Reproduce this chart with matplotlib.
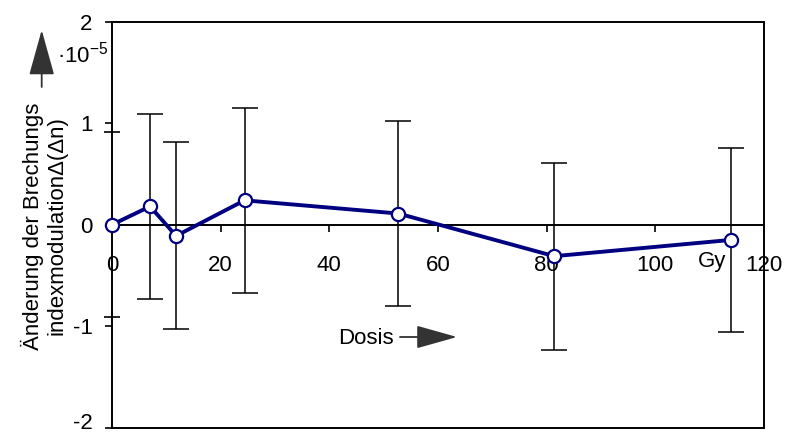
import matplotlib
matplotlib.use("Agg")
import matplotlib.pyplot as plt
from matplotlib.ticker import FixedLocator
from matplotlib.transforms import offset_copy

plt.rcParams['font.family'] = ['Liberation Sans', 'DejaVu Sans']
plt.rcParams['font.size'] = 16

# Dose (Gy) and change of refractive index modulation (x 1e-5)
dose = [0.0, 7.0, 11.8, 24.4, 52.7, 81.4, 113.9]
delta_n = [0.0, 0.18, -0.11, 0.24, 0.11, -0.31, -0.15]
delta_n_err = [0.0, 0.91, 0.92, 0.91, 0.91, 0.92, 0.91]

x_ticks = [0, 20, 40, 60, 80, 100, 120]
y_ticks = [-2, -1, 0, 1, 2]
y_ticks_aux = [-0.91, 0.91]

W, H = 787, 436
fig = plt.figure(figsize=(W / 100, H / 100), dpi=100)
ax = fig.add_axes([112 / W, 1 - 427.7 / H, (764 - 112) / W, (427.7 - 21.7) / H])

ax.set_xlim(0, 120)
ax.set_ylim(-2, 2)

# error bars (with caps) behind the curve
ax.errorbar(dose[1:], delta_n[1:], yerr=delta_n_err[1:], fmt='none',
            ecolor='black', elinewidth=1.1, capsize=9.5, capthick=1.1, zorder=2)
ax.plot(dose, delta_n, color='#000080', lw=2.8, marker='o', ms=9.5,
        mfc='white', mec='#000080', mew=1.6, zorder=3, clip_on=False)

# axes: x axis through zero, framed box
for s in ['left', 'top', 'right', 'bottom']:
    ax.spines[s].set_linewidth(1.4)
ax.spines['bottom'].set_position(('data', 0))
ax.plot([0, 1], [0, 0], transform=ax.transAxes, color='black', lw=1.4,
        clip_on=False, zorder=1)

ax.set_xticks(x_ticks)
ax.set_xticklabels([str(v) for v in x_ticks])
ax.tick_params(axis='x', direction='out', length=5, width=1.2, pad=17,
               labelsize=16)
ax.set_yticks(y_ticks)
ax.set_yticklabels([str(v) for v in y_ticks])
ax.tick_params(axis='y', direction='out', length=5, width=1.2, pad=9,
               labelsize=16)
ax.yaxis.set_minor_locator(FixedLocator(y_ticks_aux))
ax.tick_params(axis='y', which='minor', direction='inout', length=11,
               width=1.2)

# keep the lowest y label inside the figure
fig.canvas.draw()
lowest = ax.get_yticklabels()[0]
lowest.set_transform(offset_copy(lowest.get_transform(), fig=fig, x=0, y=7,
                                 units='dots'))

# unit label on the x axis, in line with the tick labels
ax.annotate('Gy', xy=(110.5, 0), xytext=(0, -37 * 0.72),
            textcoords='offset points', ha='center', va='center', fontsize=16)

# y axis label with arrow and scale factor
fig.text(44 / W, 1 - 226 / H, 'Änderung der Brechungs\nindexmodulation\u0394(\u0394n)',
         rotation=90, ha='center', va='center', multialignment='center',
         fontsize=16, linespacing=1.12)
ax.annotate('', xy=(41.7 / W, 1 - 30 / H), xytext=(41.7 / W, 1 - 87 / H),
            xycoords='figure fraction', textcoords='figure fraction',
            arrowprops=dict(arrowstyle='-|>,head_length=1.8,head_width=0.5',
                            color='#333333', lw=1.3, shrinkA=0, shrinkB=0))
fig.text(57 / W, 1 - 55 / H, '\u00b710$^{\\mathregular{-5}}$', ha='left',
         va='center', fontsize=16)

# dose label with arrow
fig.text(338 / W, 1 - 338 / H, 'Dosis', ha='left', va='center', fontsize=16)
ax.annotate('', xy=(457 / W, 1 - 337 / H), xytext=(400 / W, 1 - 337 / H),
            xycoords='figure fraction', textcoords='figure fraction',
            arrowprops=dict(arrowstyle='-|>,head_length=1.6,head_width=0.45',
                            color='#333333', lw=1.3, shrinkA=0, shrinkB=0))

fig.savefig('out.png', dpi=100)
